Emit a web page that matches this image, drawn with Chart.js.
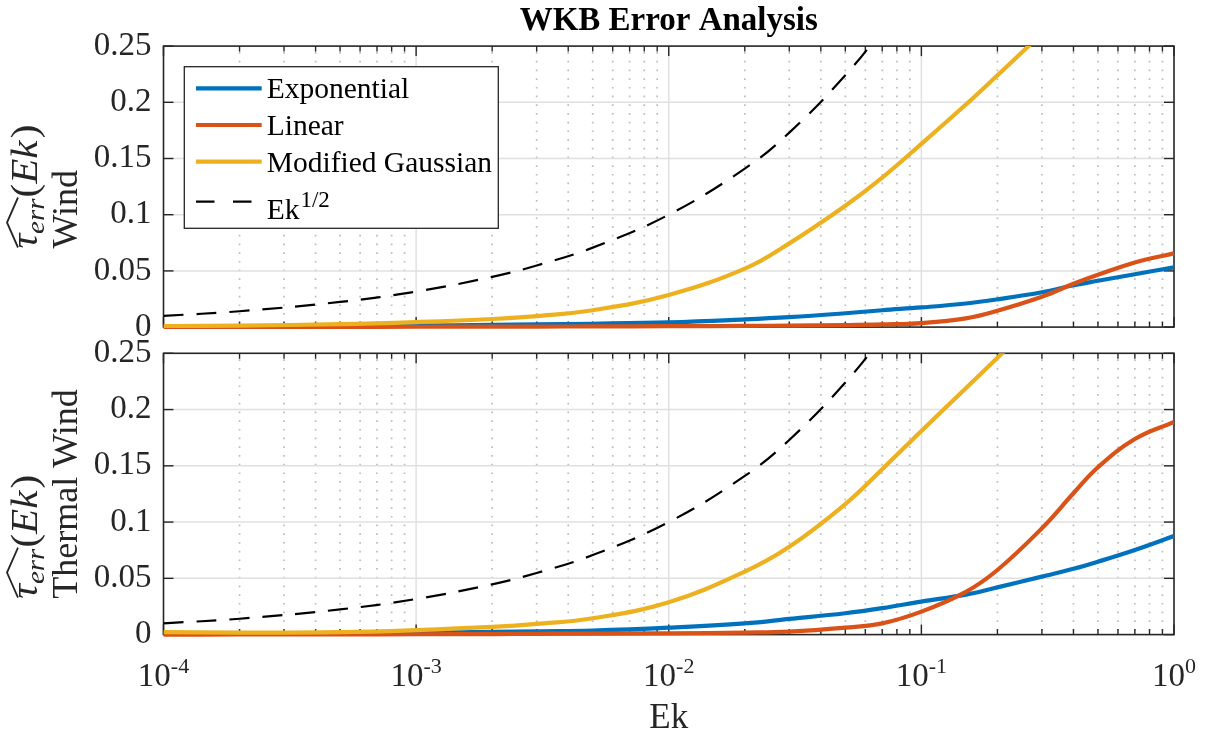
<!DOCTYPE html>
<html>
<head>
<meta charset="utf-8">
<title>WKB Error Analysis</title>
<script src="https://cdn.jsdelivr.net/npm/chart.js@4.4.0/dist/chart.umd.min.js"></script>
<style>
  html, body { margin: 0; padding: 0; background: #ffffff; }
  #wrap { position: relative; width: 1210px; height: 736px; overflow: hidden; background: #ffffff; }
  #wrap canvas { position: absolute; left: 0; top: 0; }
</style>
</head>
<body>
<div id="wrap">
  <canvas id="windPanel" width="1210" height="736"></canvas>
  <canvas id="thermalPanel" width="1210" height="736"></canvas>
</div>
<script>
// Ekman numbers at which the error estimates are sampled
const ek = [1e-4, 2e-4, 5e-4, 1e-3, 2e-3, 3e-3, 5e-3, 1e-2, 2e-2, 3e-2, 5e-2, 7e-2, 0.1, 0.15, 0.2, 0.3, 0.4, 0.5, 0.7, 1];

const seriesNames = ['Exponential', 'Linear', 'Modified Gaussian', 'Ek^{1/2}'];
const seriesColors = ['#0072BD', '#D95319', '#EDB120', '#000000'];

// Reference scaling Ek^(1/2)
const ekHalf = [0.010, 0.0141, 0.0224, 0.0316, 0.0447, 0.0548, 0.0707, 0.100, 0.141, 0.173, 0.224, 0.265, 0.316, 0.387, 0.447, 0.548, 0.632, 0.707, 0.837, 1.0];

// Wind forcing
const windExponential = [0.0003, 0.0005, 0.0009, 0.0013, 0.0020, 0.0025, 0.0030, 0.0042, 0.0068, 0.0088, 0.0123, 0.0150, 0.0175, 0.0210, 0.0247, 0.0310, 0.0372, 0.0412, 0.0470, 0.0532];
const windLinear      = [0.0001, 0.0001, 0.0002, 0.0003, 0.0004, 0.0005, 0.0006, 0.0008, 0.0011, 0.0013, 0.0018, 0.0024, 0.0036, 0.0078, 0.0146, 0.0270, 0.0385, 0.0465, 0.0575, 0.0656];
const windGaussian    = [0.0010, 0.0014, 0.0026, 0.0045, 0.0072, 0.0098, 0.0150, 0.0286, 0.0520, 0.0745, 0.1080, 0.1330, 0.1630, 0.1980, 0.2240, 0.2610, 0.2860, 0.3050, 0.3330, 0.3600];

// Thermal wind forcing
const thermalExponential = [0.0012, 0.0012, 0.0014, 0.0017, 0.0024, 0.0029, 0.0036, 0.0062, 0.0100, 0.0139, 0.0190, 0.0235, 0.0293, 0.0355, 0.0420, 0.0515, 0.0585, 0.0648, 0.0752, 0.0876];
const thermalLinear      = [0.0000, 0.0001, 0.0002, 0.0003, 0.0005, 0.0007, 0.0009, 0.0012, 0.0018, 0.0026, 0.0062, 0.0100, 0.0204, 0.0380, 0.0574, 0.0945, 0.1256, 0.1487, 0.1738, 0.1890];
const thermalGaussian    = [0.0022, 0.0018, 0.0022, 0.0040, 0.0068, 0.0095, 0.0145, 0.0287, 0.0560, 0.0780, 0.1160, 0.1470, 0.1810, 0.2190, 0.2460, 0.2850, 0.3150, 0.3380, 0.3700, 0.4000];

// Axis ticks
const yTicks = [0, 0.05, 0.1, 0.15, 0.2, 0.25];
const xDecades = [1e-4, 1e-3, 1e-2, 1e-1, 1];
const xTickExponents = ['-4', '-3', '-2', '-1', '0'];

const SERIF = '"Liberation Serif", "Times New Roman", Times, serif';
const AXIS_COLOR = '#262626';

// minor decade ticks 2..9 x 10^n
const minorX = [];
xDecades.slice(0, -1).forEach(d => { for (let m = 2; m <= 9; m++) minorX.push(m * d); });

function buildDatasets(values) {
  return seriesNames.map((name, i) => ({
    label: name,
    data: ek.map((x, k) => ({ x: x, y: values[i][k] })),
    borderColor: seriesColors[i],
    backgroundColor: seriesColors[i],
    borderWidth: i === 3 ? 2.2 : 4.2,
    borderDash: i === 3 ? [20, 13] : [],
    pointRadius: 0,
    tension: 0.4,
    fill: false,
    order: seriesNames.length - i,
    clip: { left: 0, top: 0, right: 0, bottom: 4 }
  }));
}

function measureRuns(ctx, runs) {
  let w = 0;
  runs.forEach(r => { ctx.font = r.font; w += ctx.measureText(r.text).width + (r.gap || 0); });
  return w;
}

function drawRuns(ctx, runs, x, y) {
  let cx = x;
  const spans = [];
  runs.forEach(r => {
    ctx.font = r.font;
    ctx.fillText(r.text, cx, y + (r.dy || 0));
    const w = ctx.measureText(r.text).width;
    spans.push([cx, cx + w]);
    cx += w + (r.gap || 0);
  });
  return spans;
}

// text with an optional ^{...} superscript
function splitSup(label) {
  const m = label.match(/^(.*)\^\{(.*)\}$/);
  return m ? { base: m[1], sup: m[2] } : { base: label, sup: '' };
}

function drawYTitle(ctx, a, secondLine) {
  const big = 37, small = 26, stretch = 1.11;
  const mathRuns = [
    { text: 'τ', font: `italic ${big}px ${SERIF}` },
    { text: 'err', font: `italic ${small}px ${SERIF}`, dy: 7, gap: 1 },
    { text: '(', font: `${big}px ${SERIF}` },
    { text: 'Ek', font: `italic ${big}px ${SERIF}`, gap: 2 },
    { text: ')', font: `${big}px ${SERIF}` }
  ];
  const textFont = `36px ${SERIF}`;
  const w1 = measureRuns(ctx, mathRuns) * stretch;
  ctx.font = textFont;
  const w2 = ctx.measureText(secondLine).width;
  const start = (a.top + a.bottom) / 2 + Math.max(w1, w2) / 2;

  ctx.save();
  ctx.fillStyle = AXIS_COLOR;
  ctx.strokeStyle = AXIS_COLOR;
  ctx.textAlign = 'left';
  ctx.textBaseline = 'alphabetic';

  ctx.save();
  ctx.translate(37, start);
  ctx.rotate(-Math.PI / 2);
  ctx.scale(stretch, 1);
  const spans = drawRuns(ctx, mathRuns, 0, 0);
  // wide hat over tau_err
  const h0 = spans[0][0] + 1, h1 = spans[1][1] + 1;
  ctx.beginPath();
  ctx.moveTo(h0, -19);
  ctx.lineTo((h0 + h1) / 2, -30);
  ctx.lineTo(h1, -19);
  ctx.lineWidth = 1.8;
  ctx.stroke();
  ctx.restore();

  ctx.save();
  ctx.translate(77, start);
  ctx.rotate(-Math.PI / 2);
  ctx.font = textFont;
  ctx.fillText(secondLine, 0, 0);
  ctx.restore();

  ctx.restore();
}

function drawLegend(chart) {
  const ctx = chart.ctx;
  const box = { left: 184.3, top: 66.7, right: 498.3, bottom: 228.3 };
  ctx.save();
  ctx.fillStyle = '#ffffff';
  ctx.fillRect(box.left, box.top, box.right - box.left, box.bottom - box.top);
  ctx.strokeStyle = AXIS_COLOR;
  ctx.lineWidth = 1.3;
  ctx.strokeRect(box.left, box.top, box.right - box.left, box.bottom - box.top);

  const rowCenters = [88.3, 125, 161.7, 201.7];
  chart.data.datasets.forEach((ds, i) => {
    const yc = rowCenters[i];
    ctx.beginPath();
    ctx.strokeStyle = ds.borderColor;
    ctx.lineWidth = ds.borderWidth;
    ctx.setLineDash(ds.borderDash && ds.borderDash.length ? [18.5, 18.5] : []);
    ctx.moveTo(196, yc);
    ctx.lineTo(261.7, yc);
    ctx.stroke();
    ctx.setLineDash([]);

    const parts = splitSup(ds.label);
    ctx.fillStyle = '#000000';
    ctx.textAlign = 'left';
    ctx.textBaseline = 'alphabetic';
    ctx.font = `29.5px ${SERIF}`;
    const base = parts.sup ? yc + 17.3 : yc + 10;
    ctx.fillText(parts.base, 266.7, base);
    if (parts.sup) {
      const w = ctx.measureText(parts.base).width;
      ctx.font = `23px ${SERIF}`;
      ctx.fillText(parts.sup, 266.7 + w + 1, base - 12.5);
    }
  });
  ctx.restore();
}

const panelDecor = {
  id: 'panelDecor',
  beforeDatasetsDraw(chart) {
    const { ctx, chartArea: a } = chart;
    const xs = chart.scales.x, ys = chart.scales.y;
    ctx.save();
    // dotted minor grid on the log axis
    ctx.strokeStyle = '#bdbdbd';
    ctx.lineWidth = 1.7;
    ctx.setLineDash([1.7, 7]);
    minorX.forEach(v => {
      const px = xs.getPixelForValue(v);
      ctx.beginPath();
      ctx.moveTo(px, a.top + 6);
      ctx.lineTo(px, a.bottom);
      ctx.stroke();
    });
    ctx.setLineDash([]);
    // solid major grid
    ctx.strokeStyle = '#e0e0e0';
    ctx.lineWidth = 1.5;
    xDecades.slice(1, -1).forEach(v => {
      const px = xs.getPixelForValue(v);
      ctx.beginPath();
      ctx.moveTo(px, a.top);
      ctx.lineTo(px, a.bottom);
      ctx.stroke();
    });
    yTicks.slice(1, -1).forEach(v => {
      const py = ys.getPixelForValue(v);
      ctx.beginPath();
      ctx.moveTo(a.left, py);
      ctx.lineTo(a.right, py);
      ctx.stroke();
    });
    // axes box with inward ticks
    ctx.strokeStyle = AXIS_COLOR;
    ctx.lineWidth = 1.6;
    ctx.strokeRect(a.left, a.top, a.right - a.left, a.bottom - a.top);
    ctx.lineWidth = 1.4;
    const tick = (x1, y1, x2, y2) => { ctx.beginPath(); ctx.moveTo(x1, y1); ctx.lineTo(x2, y2); ctx.stroke(); };
    xDecades.forEach(v => {
      const px = xs.getPixelForValue(v);
      tick(px, a.bottom, px, a.bottom - 10);
      tick(px, a.top, px, a.top + 10);
    });
    minorX.forEach(v => {
      const px = xs.getPixelForValue(v);
      tick(px, a.bottom, px, a.bottom - 5.5);
      tick(px, a.top, px, a.top + 5.5);
    });
    yTicks.forEach(v => {
      const py = ys.getPixelForValue(v);
      tick(a.left, py, a.left + 10, py);
      tick(a.right, py, a.right - 10, py);
    });
    ctx.restore();
  },
  afterDraw(chart, args, opts) {
    const { ctx, chartArea: a } = chart;
    drawYTitle(ctx, a, opts.yTitle);
    if (opts.title) {
      ctx.save();
      ctx.fillStyle = '#000000';
      ctx.font = `bold 33px ${SERIF}`;
      ctx.textAlign = 'center';
      ctx.textBaseline = 'alphabetic';
      ctx.fillText(opts.title, (a.left + a.right) / 2, 29.5);
      ctx.restore();
    }
    if (opts.legend) drawLegend(chart);
    if (opts.xLabels) {
      const xs = chart.scales.x;
      ctx.save();
      ctx.fillStyle = AXIS_COLOR;
      ctx.textAlign = 'left';
      ctx.textBaseline = 'alphabetic';
      const baseY = a.bottom + 51.5;
      xDecades.forEach((v, i) => {
        const px = xs.getPixelForValue(v);
        ctx.font = `33px ${SERIF}`;
        const wb = ctx.measureText('10').width;
        ctx.font = `22px ${SERIF}`;
        const ws = ctx.measureText(xTickExponents[i]).width;
        const x0 = px - (wb + ws) / 2;
        ctx.font = `33px ${SERIF}`;
        ctx.fillText('10', x0, baseY);
        ctx.font = `22px ${SERIF}`;
        ctx.fillText(xTickExponents[i], x0 + wb, baseY - 13);
      });
      ctx.font = `35px ${SERIF}`;
      ctx.textAlign = 'center';
      ctx.fillText('Ek', (a.left + a.right) / 2, a.bottom + 93.5);
      ctx.restore();
    }
  }
};

function makeOptions(cfg) {
  return {
    responsive: false,
    animation: false,
    events: [],
    layout: { padding: { top: cfg.padTop, right: 36, left: 0, bottom: 0 } },
    plugins: {
      legend: { display: false },
      tooltip: { enabled: false },
      title: { display: false },
      panelDecor: cfg.decor
    },
    scales: {
      x: {
        type: 'logarithmic',
        min: 1e-4,
        max: 1,
        ticks: { display: false },
        grid: { display: false, drawTicks: false },
        border: { display: false },
        afterFit(s) { s.height = cfg.xHeight; }
      },
      y: {
        type: 'linear',
        min: 0,
        max: 0.25,
        afterBuildTicks(s) { s.ticks = yTicks.map(v => ({ value: v })); },
        ticks: {
          font: { family: SERIF, size: 33 },
          color: AXIS_COLOR,
          padding: 12,
          callback: v => String(v)
        },
        grid: { display: false, drawTicks: false },
        border: { display: false },
        afterFit(s) { s.width = 163.5; }
      }
    }
  };
}

// upper panel: wind forcing (plot box 46.1 .. 327.1)
new Chart(document.getElementById('windPanel'), {
  type: 'line',
  data: { datasets: buildDatasets([windExponential, windLinear, windGaussian, ekHalf]) },
  options: makeOptions({
    padTop: 46.1,
    xHeight: 736 - 327.1,
    decor: { yTitle: 'Wind', title: 'WKB Error Analysis', legend: true, xLabels: false }
  }),
  plugins: [panelDecor]
});

// lower panel: thermal wind forcing (plot box 353.3 .. 634.6)
new Chart(document.getElementById('thermalPanel'), {
  type: 'line',
  data: { datasets: buildDatasets([thermalExponential, thermalLinear, thermalGaussian, ekHalf]) },
  options: makeOptions({
    padTop: 353.3,
    xHeight: 736 - 634.6,
    decor: { yTitle: 'Thermal Wind', title: '', legend: false, xLabels: true }
  }),
  plugins: [panelDecor]
});
</script>
</body>
</html>
